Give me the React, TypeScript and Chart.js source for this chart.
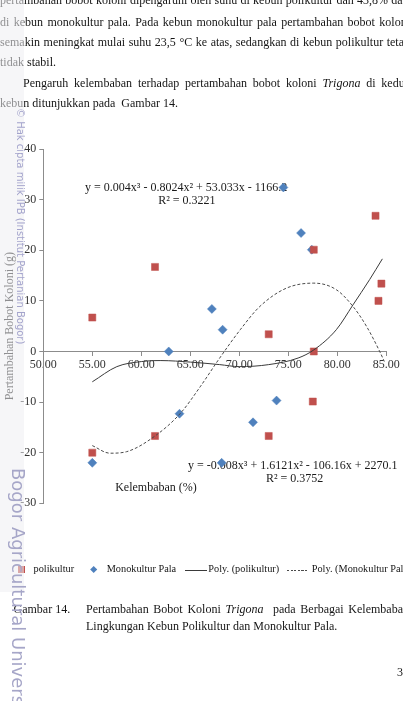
import React, { useEffect, useRef } from "react";
import { Chart, registerables } from "chart.js";

Chart.register(...registerables);

// ---------------- data ----------------
const polikulturX = [55.0, 61.4, 83.9, 77.6, 84.5, 84.2, 73.0, 55.0, 61.4, 77.6, 77.5, 73.0];
const polikulturY = [6.7, 16.7, 26.8, 20.1, 13.4, 10.0, 3.4, -20.0, -16.7, 0.0, -9.9, -16.7];

const monokulturX = [74.5, 76.3, 77.4, 67.2, 68.3, 62.8, 63.9, 55.0, 73.8, 71.4, 68.2];
const monokulturY = [32.4, 23.4, 20.1, 8.4, 4.3, 0.0, -12.3, -22.0, -9.7, -14.0, -22.0];

// trendlines as drawn in the picture
const trendPoliX = [55, 57.5, 60, 62, 65, 68, 70, 73, 76, 77.6, 79.9, 81.6, 83.3, 84.6];
const trendPoliY = [-6.0, -3.0, -2.0, -1.8, -2.1, -2.6, -3.0, -2.6, -1.3, 0.3, 4.3, 9.2, 14.2, 18.3];

const trendMonoX = [55, 56.8, 58.5, 61.4, 64, 66, 68, 70.1, 72.1, 74.8, 77.6, 79.9, 81.6, 83, 84.4, 84.8];
const trendMonoY = [-18.6, -20.1, -19.8, -16.7, -12.2, -7.0, -1.3, 4.3, 8.9, 12.5, 13.5, 12.2, 8.9, 4.9, -0.3, -2.0];

const xTickValues = [50, 55, 60, 65, 70, 75, 80, 85];
const yTickValues = [-30, -20, -10, 0, 10, 20, 30, 40];

const seriesNames = ["polikultur", "Monokultur Pala", "Poly. (polikultur)", "Poly. (Monokultur Pala)"];
const eqPoli = "y = 0.004x\u00b3 - 0.8024x\u00b2 + 53.033x - 1166.2";
const r2Poli = "R\u00b2 = 0.3221";
const eqMono = "y = -0.008x\u00b3 + 1.6121x\u00b2 - 106.16x + 2270.1";
const r2Mono = "R\u00b2 = 0.3752";
const xTitle = "Kelembaban (%)";
const yTitle = "Pertambahan Bobot Koloni (g)";

// text notes anchored in data units
const chartNotes = [
  { text: eqPoli, x: 54.26, y: 32.3, align: "left" },
  { text: r2Poli, x: 61.73, y: 29.8, align: "left" },
  { text: eqMono, x: 64.77, y: -22.6, align: "left" },
  { text: r2Mono, x: 72.72, y: -25.15, align: "left" },
  { text: xTitle, x: 61.5, y: -26.95, align: "center" },
];

const SERIF = '"Liberation Serif", "Times New Roman", serif';
const WM = '"DejaVu Sans", Verdana, sans-serif';
const RED = "#c0504d";
const BLUE = "#4f81bd";
const AXIS = "#8c8c8c";

function pts(xs: number[], ys: number[]) {
  return xs.map((x, i) => ({ x, y: ys[i] }));
}

const notesPlugin = {
  id: "notes",
  beforeDatasetsDraw(chart: any) {
    const { ctx } = chart;
    const xs = chart.scales.x;
    const ys = chart.scales.y;
    ctx.save();
    ctx.font = `12px ${SERIF}`;
    ctx.fillStyle = "#1a1a1a";
    ctx.textBaseline = "middle";
    for (const n of chartNotes) {
      ctx.textAlign = n.align;
      ctx.fillText(n.text, xs.getPixelForValue(n.x), ys.getPixelForValue(n.y));
    }
    ctx.restore();
  },
};

function Txt(props: {
  x: number;
  base: number;
  size?: number;
  width?: number;
  justify?: boolean;
  children: any;
  color?: string;
}) {
  const size = props.size ?? 12;
  const style: any = {
    position: "absolute",
    left: props.x,
    top: props.base - 0.8375 * size,
    fontFamily: SERIF,
    fontSize: size,
    lineHeight: `${size}px`,
    color: props.color ?? "#151515",
    whiteSpace: "nowrap",
  };
  if (props.width) style.width = props.width;
  if (props.justify) {
    style.textAlign = "justify";
    style.textAlignLast = "justify";
  }
  return <div style={style}>{props.children}</div>;
}

export default function App() {
  const ref = useRef<HTMLCanvasElement>(null);

  useEffect(() => {
    const canvas = ref.current;
    if (!canvas) return;
    const tickFont = { family: SERIF, size: 12 };
    const chart = new Chart(canvas, {
      type: "scatter",
      data: {
        datasets: [
          {
            label: seriesNames[2],
            data: pts(trendPoliX, trendPoliY),
            showLine: true,
            borderColor: "#3a3a3a",
            borderWidth: 1,
            pointRadius: 0,
            cubicInterpolationMode: "monotone",
            order: 0,
          },
          {
            label: seriesNames[3],
            data: pts(trendMonoX, trendMonoY),
            showLine: true,
            borderColor: "#4a4a4a",
            borderWidth: 1,
            borderDash: [3, 2],
            pointRadius: 0,
            cubicInterpolationMode: "monotone",
            order: 0,
          },
          {
            label: seriesNames[0],
            data: pts(polikulturX, polikulturY),
            pointStyle: "rect",
            pointRadius: 5,
            backgroundColor: RED,
            borderColor: RED,
            borderWidth: 0.5,
            order: 1,
          },
          {
            label: seriesNames[1],
            data: pts(monokulturX, monokulturY),
            pointStyle: "rectRot",
            pointRadius: 4.5,
            backgroundColor: BLUE,
            borderColor: BLUE,
            borderWidth: 0.5,
            order: 2,
          },
        ],
      },
      options: {
        responsive: false,
        animation: false,
        devicePixelRatio: 1,
        events: [],
        layout: { padding: { left: 0, right: 16.7, top: 149, bottom: 197.7 } },
        plugins: { legend: { display: false }, tooltip: { enabled: false } },
        scales: {
          x: {
            type: "linear",
            position: { y: 0 } as any,
            min: 50,
            max: 85,
            afterBuildTicks: (axis: any) => {
              axis.ticks = xTickValues.map((v) => ({ value: v }));
            },
            ticks: {
              callback: (v: any) => Number(v).toFixed(2),
              font: tickFont,
              color: "#333",
              padding: 2,
              maxRotation: 0,
              autoSkip: false,
            },
            grid: { drawOnChartArea: false, drawTicks: true, tickLength: 4, color: AXIS },
            border: { display: true, color: AXIS, width: 1 },
          },
          y: {
            type: "linear",
            position: "left",
            min: -30,
            max: 40,
            afterBuildTicks: (axis: any) => {
              axis.ticks = yTickValues.map((v) => ({ value: v }));
            },
            afterFit: (axis: any) => {
              axis.width = 43.3;
            },
            ticks: {
              callback: (v: any) => String(v),
              font: tickFont,
              color: "#333",
              padding: 3,
            },
            grid: { drawOnChartArea: false, drawTicks: true, tickLength: 4, color: AXIS },
            border: { display: true, color: AXIS, width: 1 },
            title: {
              display: true,
              text: yTitle,
              font: { family: SERIF, size: 12 },
              color: "#1a1a1a",
              padding: { top: 3, bottom: 0 },
            },
          },
        },
      },
      plugins: [notesPlugin],
    } as any);
    return () => chart.destroy();
  }, []);

  return (
    <div
      style={{
        position: "absolute",
        left: 0,
        top: 0,
        width: 403,
        height: 701,
        overflow: "hidden",
        background: "#fff",
      }}
    >
      <canvas
        ref={ref}
        width={403}
        height={701}
        style={{ position: "absolute", left: 0, top: 0, width: 403, height: 701 }}
      />

      {/* body text */}
      <Txt x={0} base={4} width={410} justify>
        pertambahan bobot koloni dipengaruhi oleh suhu di kebun polikultur dan 43,8% dari
      </Txt>
      <Txt x={0} base={26} width={410} justify>
        di kebun monokultur pala. Pada kebun monokultur pala pertambahan bobot koloni
      </Txt>
      <Txt x={0} base={46} width={410} justify>
        semakin meningkat mulai suhu 23,5 °C ke atas, sedangkan di kebun polikultur tetap
      </Txt>
      <Txt x={0} base={66}>tidak stabil.</Txt>
      <Txt x={23} base={87} width={387} justify>
        Pengaruh kelembaban terhadap pertambahan bobot koloni <i>Trigona</i> di kedua
      </Txt>
      <Txt x={0} base={107}>kebun ditunjukkan pada{"\u00a0"} Gambar 14.</Txt>

      {/* legend */}
      <div style={{ position: "absolute", left: 18, top: 566, width: 6.5, height: 6.5, background: RED }} />
      <Txt x={33.5} base={573} size={10.3}>
        {seriesNames[0]}
      </Txt>
      <div
        style={{
          position: "absolute",
          left: 90.6,
          top: 566.8,
          width: 5.4,
          height: 5.4,
          background: BLUE,
          transform: "rotate(45deg)",
        }}
      />
      <Txt x={106.7} base={573} size={10.3}>
        {seriesNames[1]}
      </Txt>
      <div style={{ position: "absolute", left: 185, top: 569.5, width: 22, height: 1, background: "#3a3a3a" }} />
      <Txt x={208.3} base={573} size={10.3}>
        {seriesNames[2]}
      </Txt>
      <div
        style={{
          position: "absolute",
          left: 287,
          top: 569.5,
          width: 21.5,
          height: 1,
          background: "repeating-linear-gradient(90deg, #4a4a4a 0 2.2px, transparent 2.2px 3.6px)",
        }}
      />
      <Txt x={311.7} base={573} size={10.3}>
        {seriesNames[3]}
      </Txt>

      {/* scanned-page side strip */}
      <div
        style={{
          position: "absolute",
          left: 0,
          top: 0,
          width: 24,
          height: 592,
          background: "rgba(238,238,242,0.55)",
        }}
      />

      {/* caption */}
      <Txt x={13.5} base={613}>Gambar 14.</Txt>
      <Txt x={86} base={613} width={323} justify>
        Pertambahan Bobot Koloni <i>Trigona</i>{"\u00a0"} pada Berbagai Kelembaban
      </Txt>
      <Txt x={86} base={630}>Lingkungan Kebun Polikultur dan Monokultur Pala.</Txt>
      <Txt x={397} base={676}>3</Txt>

      {/* watermark */}
      <div
        style={{
          position: "absolute",
          left: 25.1,
          top: 108,
          transformOrigin: "0 0",
          transform: "rotate(90deg)",
          fontFamily: WM,
          fontSize: 10,
          lineHeight: "10px",
          color: "#a4a4cc",
          whiteSpace: "nowrap",
        }}
      >
        © Hak cipta milik IPB (Institut Pertanian Bogor)
      </div>
      <div
        style={{
          position: "absolute",
          left: 27,
          top: 468,
          transformOrigin: "0 0",
          transform: "rotate(90deg)",
          fontFamily: WM,
          fontSize: 18,
          lineHeight: "18px",
          color: "#a6a6c8",
          whiteSpace: "nowrap",
        }}
      >
        Bogor Agricultural University
      </div>
    </div>
  );
}
